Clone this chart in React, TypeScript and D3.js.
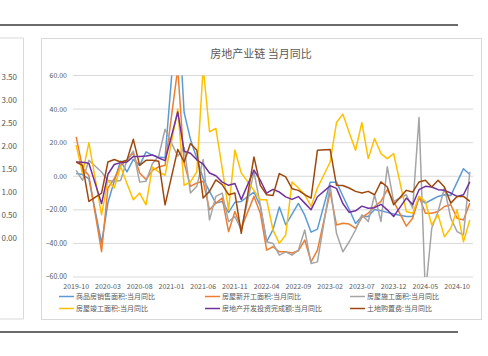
import React from 'react';
import * as d3 from 'd3';

const categories = [
  '2019-10','2019-11','2019-12','2020-01','2020-02','2020-03','2020-04','2020-05','2020-06','2020-07',
  '2020-08','2020-09','2020-10','2020-11','2020-12','2021-01','2021-02','2021-03','2021-04','2021-05',
  '2021-06','2021-07','2021-08','2021-09','2021-10','2021-11','2021-12','2022-01','2022-02','2022-03',
  '2022-04','2022-05','2022-06','2022-07','2022-08','2022-09','2022-10','2022-11','2022-12','2023-01',
  '2023-02','2023-03','2023-04','2023-05','2023-06','2023-07','2023-08','2023-09','2023-10','2023-11',
  '2023-12','2024-01','2024-02','2024-03','2024-04','2024-05','2024-06','2024-07','2024-08','2024-09',
  '2024-10','2024-11','2024-12',
];

const salesArea = [
  1.6, 1.0, -1.5, null, -39.9, -15.8, -2.8, 9.1, 2.6, 10.0,
  6.5, 14.5, 12.5, 11.5, 11.0, null, 104.9, 38.0, 22.0, 10.5,
  -1.4, -9.0, -16.0, -15.0, -21.5, -15.5, -15.0, null, -9.5, -17.7,
  -39.0, -31.8, -18.3, -28.9, -22.6, -16.2, -23.2, -33.3, -31.5, null,
  -3.6, -3.5, -11.8, -19.7, -28.1, -23.8, -24.0, -19.8, -20.5, -21.5,
  -22.5, null, -24.0, -24.0, -13.0, -16.0, -14.0, -12.0, -11.0, -11.5,
  -3.5, 4.5, 1.0,
];
const newStarts = [
  23.5, 5.0, 0.5, null, -44.9, -7.0, -1.5, 6.5, 9.5, 14.0,
  2.0, -2.0, 3.5, 5.5, 6.5, null, 64.3, 8.0, -6.0, -4.0,
  -3.0, -20.0, -16.0, -13.0, -33.0, -21.0, -31.0, null, -12.0, -22.0,
  -44.0, -42.0, -45.0, -45.0, -45.7, -44.4, -38.0, -51.0, -44.0, null,
  -9.4, -29.0, -28.0, -28.5, -31.0, -24.5, -22.0, -18.0, -15.0, -8.0,
  -15.0, null, -29.7, -25.0, -12.0, -22.0, -22.0, -21.0, -18.0, -17.0,
  -25.0, -26.0, -16.0,
];
const underConstruction = [
  3.5, -2.5, 9.5, null, 2.5, -2.5, -3.0, -2.5, 9.5, 15.0,
  -3.5, -3.0, 7.5, 12.0, 28.0, null, 12.0, 17.0, -10.0, -6.0,
  10.0, -26.0, -12.0, -10.0, -27.0, -24.0, -32.0, null, 2.6, -17.0,
  -39.0, -40.0, -47.0, -45.0, -47.0, -44.0, -32.0, -52.0, -51.0, null,
  -5.4, -34.0, -45.0, -39.0, -32.0, -23.0, -27.0, -11.0, -27.0, 5.6,
  -15.0, null, -11.0, -19.0, 35.0, -70.0, -31.0, -21.0, -7.0, -25.0,
  -33.0, -35.0, 2.6,
];
const completions = [
  18.5, 1.6, 20.0, null, -23.0, -2.4, -7.0, 6.0, -4.4, -14.0,
  -10.0, -17.0, 5.5, 2.6, 0.6, null, 40.0, -5.4, -3.4, 2.6,
  65.0, 26.5, 28.5, 4.7, -20.0, 15.6, 2.0, null, -8.4, -14.0,
  -14.0, -32.0, -40.0, -35.0, -3.4, -7.0, -11.0, -18.0, -7.0, null,
  8.5, 32.0, 37.0, 26.0, 15.5, 32.0, 10.5, 22.5, 13.5, 10.5,
  13.5, null, -21.0, -22.0, -12.0, -15.0, -29.0, -23.0, -36.0, -31.0,
  -20.0, -39.0, -26.0,
];
const investment = [
  8.5, 8.3, 7.8, null, -16.3, 1.2, 7.0, 8.1, 8.5, 11.7,
  11.8, 12.0, 12.7, 10.9, 9.3, null, 38.3, 14.9, 13.7, 9.8,
  7.2, 1.9, 0.3, -3.5, -5.4, -4.3, -13.9, null, 3.7, -2.4,
  -10.1, -7.8, -9.4, -12.3, -13.8, -12.1, -16.0, -19.9, -12.2, null,
  -5.7, -7.2, -16.2, -21.5, -20.6, -17.8, -19.1, -18.7, -16.7, -20.0,
  -24.0, null, -13.0, -16.8, -8.0, -6.0, -6.4, -8.0, -8.4, -10.0,
  -12.0, -11.0, -3.4,
];
const landPurchase = [
  8.5, 6.5, -15.0, null, -10.0, 8.5, 10.0, 8.5, 9.5, 22.0,
  6.5, 9.5, 9.5, 9.0, -17.0, null, 16.0, 8.5, 19.5, 15.5,
  -13.0, -9.0, -2.2, -5.0, -11.0, -10.0, -34.0, null, 11.5, -5.4,
  -11.0, -11.5, 1.6, -0.4, -7.4, -8.4, -11.0, -13.0, 15.5, null,
  16.0, -5.4, -5.5, -7.0, -9.0, -10.0, -9.0, -11.0, -3.4, -6.4,
  -17.0, null, -8.4, -9.4, -3.4, -2.4, -6.4, -2.4, -6.4, -16.0,
  -12.0, -12.0, -15.0,
];

const seriesNames = [
  '商品房销售面积:当月同比',
  '房屋新开工面积:当月同比',
  '房屋施工面积:当月同比',
  '房屋竣工面积:当月同比',
  '房地产开发投资完成额:当月同比',
  '土地购置费:当月同比',
];
const seriesValues = [salesArea, newStarts, underConstruction, completions, investment, landPurchase];
const seriesColors = ['#5B9BD5', '#ED7D31', '#A5A5A5', '#FFC000', '#7030A0', '#9E480E'];

const leftTicks = [0, 0.5, 1, 1.5, 2, 2.5, 3, 3.5];
const title = '房地产业链 当月同比';

const FONT = '"Noto Sans CJK SC", "Noto Sans", sans-serif';
const TXT = '#595959';

export default function App() {
  const W = 488, H = 356;
  const pL = 73, pR = 473, pT = 75.5, pB = 277;
  const x = d3.scaleBand<string>().domain(categories).range([pL, pR]);
  const cx = (c: string) => (x(c) as number) + x.bandwidth() / 2;
  const y = d3.scaleLinear().domain([-60, 60]).range([pB, pT]);
  const yTicks = y.ticks(6);
  const fmt = d3.format('.2f');
  const yLeft = d3.scaleLinear().domain([0, 3.5]).range([238, 77]);

  const line = d3.line<[string, number]>()
    .x(d => cx(d[0]))
    .y(d => y(d[1]));

  const legendCols = [59, 205, 350];
  const legendRows = [296.5, 308.5];

  return (
    <svg width={W} height={H} style={{ position: 'absolute', left: 0, top: 0, background: '#fff' }}
      fontFamily={FONT}>
      <defs>
        <clipPath id="plotclip">
          <rect x={pL} y={pT} width={pR - pL} height={pB - pT} />
        </clipPath>
      </defs>
      <rect x={0} y={0} width={W} height={H} fill="#fff" />
      {/* frame lines */}
      <line x1={0} x2={458} y1={25} y2={25} stroke="#3a3a3a" strokeWidth={1.6} />
      <line x1={0} x2={458} y1={332} y2={332} stroke="#3a3a3a" strokeWidth={1.6} />
      <path d={`M0,38H23.5V319H0`} fill="none" stroke="#d9d9d9" strokeWidth={1} />
      <rect x={41.5} y={38.5} width={440} height={281} fill="#fff" stroke="#d9d9d9" strokeWidth={1} />

      {/* left partial axis */}
      {leftTicks.map(t => (
        <text key={t} x={17} y={yLeft(t)} dy="0.35em" textAnchor="end" fontSize={8} fill={TXT}>
          {fmt(t)}
        </text>
      ))}

      <text x={261} y={54} dy="0.35em" textAnchor="middle" fontSize={11} fill={TXT}>{title}</text>

      {/* grid + y labels */}
      {yTicks.map(t => (
        <g key={t}>
          <line x1={pL} x2={pR} y1={y(t)} y2={y(t)} stroke="#d9d9d9" strokeWidth={1} />
          <text x={67} y={y(t)} dy="0.35em" textAnchor="end" fontSize={7} fill={TXT}>{fmt(t)}</text>
        </g>
      ))}

      {/* x labels */}
      {categories.map((c, i) => i % 5 === 0 ? (
        <text key={c} x={cx(c)} y={286.5} dy="0.35em" textAnchor="middle" fontSize={7} fill={TXT}>{c}</text>
      ) : null)}

      {/* series */}
      <g clipPath="url(#plotclip)">
        {seriesValues.map((vals, si) => {
          const pts = categories
            .map((c, i) => [c, vals[i]] as [string, number | null])
            .filter(d => d[1] !== null) as [string, number][];
          return (
            <path key={si} d={line(pts) || ''} fill="none" stroke={seriesColors[si]}
              strokeWidth={1.5} strokeLinejoin="round" />
          );
        })}
      </g>

      {/* legend */}
      {seriesNames.map((n, i) => {
        const lx = legendCols[i % 3];
        const ly = legendRows[Math.floor(i / 3)];
        return (
          <g key={n}>
            <line x1={lx} x2={lx + 15} y1={ly} y2={ly} stroke={seriesColors[i]} strokeWidth={1.5} />
            <text x={lx + 17} y={ly} dy="0.35em" fontSize={7} fill={TXT}>{n}</text>
          </g>
        );
      })}
    </svg>
  );
}
